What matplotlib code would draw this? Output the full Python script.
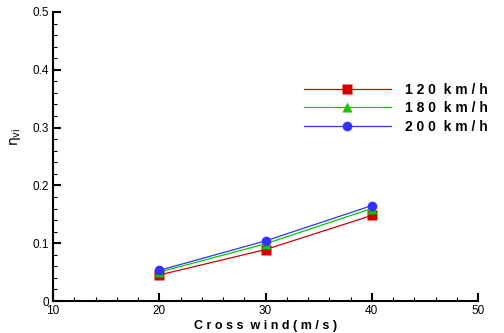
import matplotlib.pyplot as plt
from matplotlib.ticker import MultipleLocator

plt.rcParams['font.family'] = ['Liberation Sans', 'DejaVu Sans']

cross_wind = [20, 30, 40]
eta_120 = [0.045, 0.089, 0.148]
eta_180 = [0.050, 0.099, 0.160]
eta_200 = [0.053, 0.104, 0.165]
labels = ['1 2 0  k m / h', '1 8 0  k m / h', '2 0 0  k m / h']

fig = plt.figure(figsize=(5.04, 3.33), dpi=100)
ax = fig.add_axes([53 / 504, 32 / 333, 425 / 504, 289 / 333])

ax.plot(cross_wind, eta_120, color='#d40000', lw=0.9, marker='s', ms=7,
        mec='none', label=labels[0])
ax.plot(cross_wind, eta_180, color='#00cc00', lw=0.9, marker='^', ms=7,
        mec='none', label=labels[1])
ax.plot(cross_wind, eta_200, color='#3333ff', lw=0.9, marker='o', ms=7,
        mec='none', label=labels[2])

ax.set_xlim(10, 50)
ax.set_ylim(0, 0.5)
ax.xaxis.set_major_locator(MultipleLocator(10))
ax.xaxis.set_minor_locator(MultipleLocator(2))
ax.set_yticks([0, 0.1, 0.2, 0.3, 0.4, 0.5])
ax.set_yticklabels(['0', '0.1', '0.2', '0.3', '0.4', '0.5'])
ax.yaxis.set_minor_locator(MultipleLocator(0.02))

for s in ['top', 'right']:
    ax.spines[s].set_visible(False)
for s in ['left', 'bottom']:
    ax.spines[s].set_linewidth(1.5)

ax.tick_params(which='major', direction='in', length=6, width=1.5, labelsize=8.5, pad=3)
ax.tick_params(which='minor', direction='in', length=3, width=0.8)

ax.set_xlabel('C r o s s  w i n d ( m / s )', fontsize=9, fontweight='bold', labelpad=2)
ax.set_ylabel(r'$\mathrm{\eta_{vi}}$', fontsize=10)
ax.yaxis.set_label_coords(-0.07, 0.57)

leg = ax.legend(loc='upper left', bbox_to_anchor=(0.56, 0.797), frameon=False,
                handlelength=6.3, handletextpad=1.0, labelspacing=0.3,
                prop={'size': 10, 'weight': 'bold'})

fig.savefig('out.png', dpi=100)
